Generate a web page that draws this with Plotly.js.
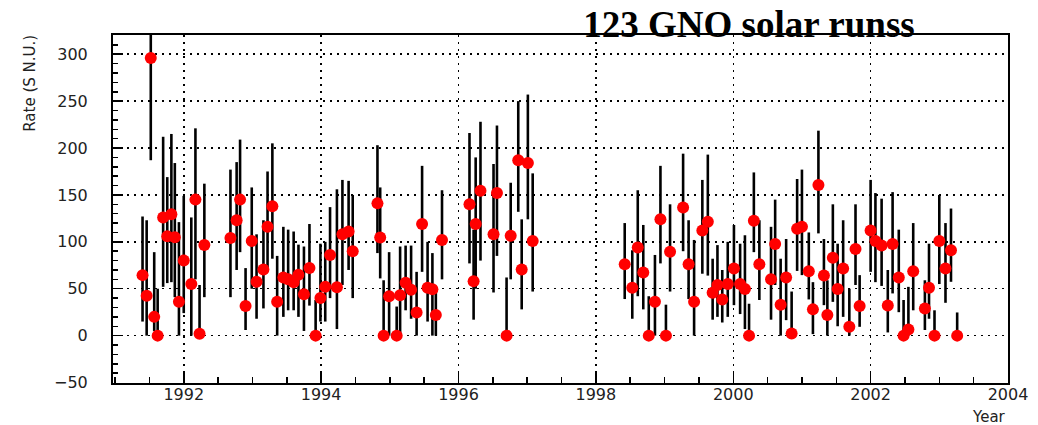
<!DOCTYPE html>
<html>
<head>
<meta charset="utf-8">
<script src="https://cdn.plot.ly/plotly-3.0.1.min.js"></script>
<style>
html,body{margin:0;padding:0;background:#fff;}
#chart{width:1038px;height:425px;}
</style>
</head>
<body>
<div id="chart"></div>
<script>
// Run times (year)
const years = [
  1991.40,1991.46,1991.52,1991.57,1991.62,1991.70,1991.76,1991.82,1991.87,1991.93,1992.00,1992.11,1992.17,1992.23,1992.30,
  1992.68,1992.77,1992.82,1992.90,1992.99,1993.06,1993.16,1993.22,1993.29,1993.36,1993.45,1993.52,1993.60,1993.67,1993.75,1993.83,1993.92,1993.99,1994.06,1994.13,1994.23,1994.31,1994.40,1994.46,
  1994.82,1994.86,1994.91,1994.99,1995.10,1995.15,1995.23,1995.31,1995.39,1995.47,1995.55,1995.62,1995.67,1995.76,
  1996.16,1996.22,1996.25,1996.32,1996.51,1996.56,1996.70,1996.76,1996.87,1996.92,1997.01,1997.08,
  1998.42,1998.53,1998.61,1998.69,1998.77,1998.86,1998.94,1999.02,1999.08,1999.27,1999.35,1999.43,1999.55,1999.63,1999.70,1999.77,1999.84,1999.92,
  2000.01,2000.10,2000.17,2000.23,2000.30,2000.38,2000.55,2000.61,2000.69,2000.77,2000.85,2000.93,
  2001.00,2001.10,2001.16,2001.24,2001.32,2001.37,2001.45,2001.52,2001.60,2001.69,2001.78,2001.84,
  2002.00,2002.07,2002.16,2002.25,2002.32,2002.41,2002.48,2002.55,2002.62,2002.79,2002.85,2002.93,
  2003.00,2003.09,2003.17,2003.26
];
// Rate (SNU)
const rates = [
  64.5,42.5,296,20,0,126,106,129.5,105,36,80,55,145,2,96.5,
  104,123,145,31.5,101,57.4,70.5,116,138,36,62,60,57,65,44,72,0,40,52,86,51.5,108,111,90,
  141,104.7,0,42,0,43,56.4,49,24.7,119,51,49.5,22,102,
  140,58,119,154.5,108,152,0,106.5,187,70.6,184,101,
  76,51,94,67.4,0,36,124,0,89.4,136.7,76,36,112,121.4,45.6,54,38.6,55,
  71.6,55,49.6,0,122.5,76,60,97.6,33,62,2.3,114,
  116,68.6,28,160.5,64,22,83,49.6,71.6,9.4,92.3,31.5,
  112,101,96,32,97.6,62,0,6.6,68.6,29,51,0,
  101,71.6,91,0
];
// Upper end of each error bar (SNU)
const upperEnd = [
  127,123,400,89,50,212,169,215,184,121,149,126,221,54,162,
  177,185,209,72,158,108,123,175,205,85,116,113,111,97,95,119,38,98,100,137,156,166,165,150,
  203,158,59,89,31,95,96,96,68,181,100,88,50,155,
  216,113,190,228,183,224,62,163,250,124,257,173,
  120,91,155,118,42,86,181,33,140,194,123,102,166,193,82,96.5,70,100,
  118,98,107,34,174,123,116,145,82,103,47,167,
  177,110,57,218.5,103,59,140,98,123,50,140,64.5,
  166,152,146,70,153,113,38,52,120,59,98,27,
  150,120,135.5,24.7
];
// Lower end of each error bar (SNU)
const lowerEnd = [
  15,0,187,5,0,52,56,57,41,0,24,0,60,0,41,
  41,70,89,6,50,18,29,70,82,0,20,27,27,20,5,32,0,15,15,40,7,54,70,40,
  88,61,0,0,0,0,27,18,0,68,15,0,0,60,
  77,17,50,80,46,85,0,60,132,28,124,47,
  39,18,42,28,0,0,77,0,47,90,39,0,66,64,17,20,14,20,
  32.5,23,7,0,89,38,17,54,0,16.5,0,69,
  64.5,38.6,1.6,109,32.5,0,36,10,20,0,54,9.4,
  68,57,53,3.4,45,25,0,0,27,6,18,0,
  55,35,57.4,0
];
const xTickVals = [1992,1994,1996,1998,2000,2002,2004];
const yTickVals = [-50,0,50,100,150,200,250,300];

const errPlus = upperEnd.map((u,i)=>Math.max(0,u-rates[i]));
const errMinus = lowerEnd.map((l,i)=>Math.max(0,rates[i]-l));

const trace = {
  x: years, y: rates, type: 'scatter', mode: 'markers',
  marker: {color: '#ff0000', size: 12, symbol: 'circle', line: {width: 0}},
  error_y: {type: 'data', symmetric: false, array: errPlus, arrayminus: errMinus,
            color: '#000000', thickness: 2.6, width: 0},
  hoverinfo: 'x+y'
};

const tickFont = {family: 'DejaVu Sans, sans-serif', size: 16, color: '#222'};

const layout = {
  width: 1038, height: 425,
  margin: {l: 113, r: 30, t: 35, b: 42, pad: 0},
  paper_bgcolor: '#ffffff', plot_bgcolor: '#ffffff',
  showlegend: false,
  title: {text: '<b>123 GNO solar runss</b>',
          font: {family: 'Liberation Serif, Times New Roman, serif', size: 37, color: '#000'},
          x: 0.7216, xanchor: 'center', xref: 'container',
          y: 0.943, yanchor: 'middle', yref: 'container'},
  xaxis: {
    range: [1990.97, 2004.0], tickvals: xTickVals, ticktext: xTickVals.map(String),
    ticks: 'inside', ticklen: 11, tickwidth: 1.5, tickcolor: '#000',
    minor: {dtick: 0.5, tick0: 1992, ticks: 'inside', ticklen: 6, tickwidth: 1.5, tickcolor: '#000', showgrid: false},
    showgrid: true, gridcolor: '#000', gridwidth: 1.5, griddash: '2px,5px',
    showline: true, linecolor: '#000', linewidth: 2, mirror: true,
    zeroline: false, tickfont: tickFont, ticklabelstandoff: -4,
    fixedrange: true
  },
  yaxis: {
    range: [-50.5, 320.5], tickvals: yTickVals, ticktext: yTickVals.map(v => v < 0 ? '\u2212' + Math.abs(v) : String(v)),
    ticks: 'inside', ticklen: 10, tickwidth: 1.5, tickcolor: '#000',
    minor: {dtick: 10, tick0: 0, ticks: 'inside', ticklen: 5, tickwidth: 1.5, tickcolor: '#000', showgrid: false},
    showgrid: true, gridcolor: '#000', gridwidth: 1.5, griddash: '2px,5px',
    showline: true, linecolor: '#000', linewidth: 2, mirror: true,
    zeroline: false, tickfont: tickFont, ticklabelstandoff: 20,
    fixedrange: true
  },
  annotations: [
    {text: 'Rate (S N.U.)', xref: 'paper', yref: 'paper', x: -0.0927, y: 0.86,
     xanchor: 'center', yanchor: 'middle', textangle: -90, showarrow: false,
     font: {family: 'DejaVu Sans, sans-serif', size: 15, color: '#222'}},
    {text: 'Year', xref: 'paper', yref: 'paper', x: 1.0, y: -0.097,
     xanchor: 'right', yanchor: 'middle', showarrow: false,
     font: {family: 'DejaVu Sans, sans-serif', size: 15, color: '#222'}}
  ]
};

Plotly.newPlot('chart', [trace], layout, {displayModeBar: false, staticPlot: true});
</script>
</body>
</html>
